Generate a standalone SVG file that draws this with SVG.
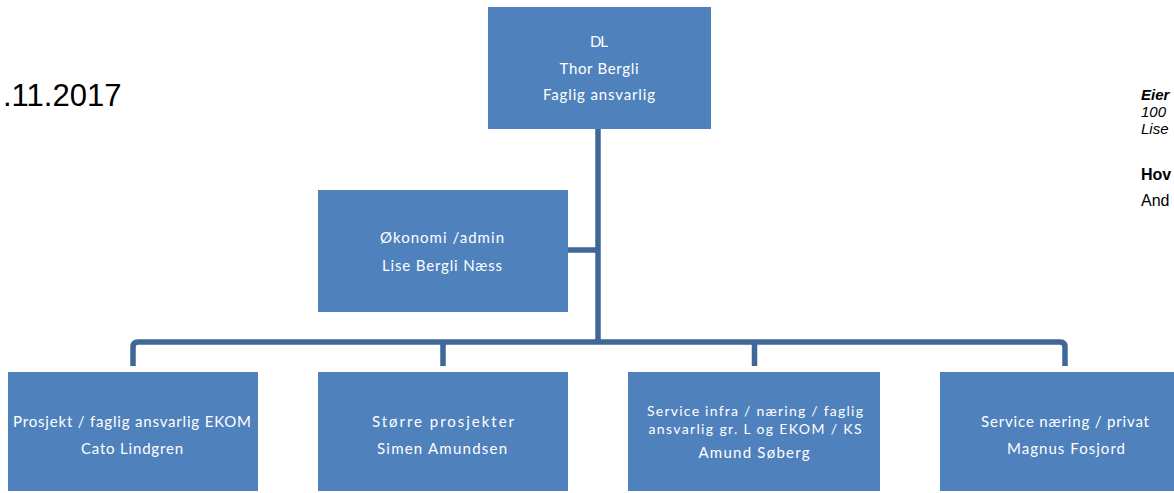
<svg xmlns="http://www.w3.org/2000/svg" width="1174" height="493" viewBox="0 0 1174 493">
<style>
.box{fill:#4F81BD}
.t{fill:#FFFFFF;font-family:Lato,"Open Sans",sans-serif;font-size:15px;text-anchor:middle}
.s{font-size:14px}
.conn{fill:none;stroke:#3F6797;stroke-width:5.5;stroke-linejoin:round}
.side{font-family:"Liberation Sans",Arial,sans-serif;fill:#000000}
</style>
<rect width="1174" height="493" fill="#FFFFFF"/>
<g id="connectors">
<path class="conn" d="M598,129 V342"/>
<path class="conn" d="M568,250 H598"/>
<path class="conn" d="M133,366 V347 Q133,342 138,342 H1060 Q1065,342 1065,347 V366"/>
<path class="conn" d="M443,342 V366"/>
<path class="conn" d="M754.5,342 V366"/>
</g>
<g id="node-dl">
<rect class="box" x="488" y="7" width="223" height="122"/>
<text class="t" x="599" y="47" textLength="18" lengthAdjust="spacing">DL</text>
<text class="t" x="599" y="74" textLength="79" lengthAdjust="spacing">Thor Bergli</text>
<text class="t" x="599" y="100" textLength="112" lengthAdjust="spacing">Faglig ansvarlig</text>
</g>
<g id="node-okonomi">
<rect class="box" x="318" y="190" width="250" height="122"/>
<text class="t" x="442" y="243" textLength="124" lengthAdjust="spacing">Økonomi /admin</text>
<text class="t" x="442" y="271" textLength="120" lengthAdjust="spacing">Lise Bergli Næss</text>
</g>
<g id="node-prosjekt">
<rect class="box" x="8" y="372" width="250" height="119"/>
<text class="t" x="132" y="427" textLength="238" lengthAdjust="spacing">Prosjekt / faglig ansvarlig EKOM</text>
<text class="t" x="132" y="454" textLength="102" lengthAdjust="spacing">Cato Lindgren</text>
</g>
<g id="node-storre">
<rect class="box" x="318" y="372" width="250" height="119"/>
<text class="t" x="443" y="427" textLength="142" lengthAdjust="spacing">Større prosjekter</text>
<text class="t" x="442" y="454" textLength="130" lengthAdjust="spacing">Simen Amundsen</text>
</g>
<g id="node-service-infra">
<rect class="box" x="628" y="372" width="252" height="119"/>
<text class="t s" x="755" y="416" textLength="216" lengthAdjust="spacing">Service infra / næring / faglig</text>
<text class="t s" x="755" y="434" textLength="213" lengthAdjust="spacing">ansvarlig gr. L og EKOM / KS</text>
<text class="t" x="754" y="458" textLength="111" lengthAdjust="spacing">Amund Søberg</text>
</g>
<g id="node-service-naering">
<rect class="box" x="940" y="372" width="250" height="119"/>
<text class="t" x="1065" y="427" textLength="168" lengthAdjust="spacing">Service næring / privat</text>
<text class="t" x="1066" y="454" textLength="118" lengthAdjust="spacing">Magnus Fosjord</text>
</g>
<g id="side-texts">
<text class="side" x="3" y="106" font-size="31">.11.2017</text>
<text class="side" x="1141" y="100" font-size="15" font-weight="bold" font-style="italic">Eier</text>
<text class="side" x="1141" y="117" font-size="15" font-style="italic">100</text>
<text class="side" x="1141" y="134" font-size="15" font-style="italic">Lise</text>
<text class="side" x="1141" y="180" font-size="16" font-weight="bold">Hov</text>
<text class="side" x="1141" y="206" font-size="16">And</text>
</g>
</svg>
